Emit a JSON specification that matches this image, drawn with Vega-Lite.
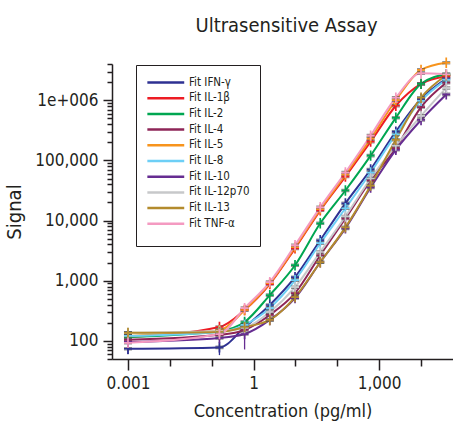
{
"$schema":"https://vega.github.io/schema/vega-lite/v6.json",
"width":341,"height":295,
"autosize":"none",
"padding":{"left":112,"top":64,"right":0,"bottom":81},
"background":"white",
"config":{"font":"'DejaVu Sans Condensed', Lato, sans-serif","view":{"stroke":null},
 "axis":{"domainColor":"#231f20","tickColor":"#231f20","labelColor":"#231f20","titleColor":"#231f20","grid":false,"domainWidth":1.5,"tickWidth":1.5}},
"title":{"text":"Ultrasensitive Assay","fontSize":20,"fontWeight":"normal","color":"#231f20","anchor":"middle","offset":18,"dx":4},
"data":{"values":[
{"s":"Fit IFN-γ","x":0.001,"y":74,"lo":60,"hi":92},{"s":"Fit IFN-γ","x":0.153,"y":78,"lo":58,"hi":90},{"s":"Fit IFN-γ","x":0.61,"y":168},{"s":"Fit IFN-γ","x":2.44,"y":395},{"s":"Fit IFN-γ","x":9.77,"y":1145},{"s":"Fit IFN-γ","x":39.1,"y":4700},{"s":"Fit IFN-γ","x":156,"y":19300},{"s":"Fit IFN-γ","x":625,"y":70500},{"s":"Fit IFN-γ","x":2500,"y":300000},{"s":"Fit IFN-γ","x":10000,"y":1050000},{"s":"Fit IFN-γ","x":40000,"y":2300000},
{"s":"Fit IL-1β","x":0.001,"y":116},{"s":"Fit IL-1β","x":0.153,"y":170},{"s":"Fit IL-1β","x":0.61,"y":326},{"s":"Fit IL-1β","x":2.44,"y":880},{"s":"Fit IL-1β","x":9.77,"y":3450},{"s":"Fit IL-1β","x":39.1,"y":14800},{"s":"Fit IL-1β","x":156,"y":53900},{"s":"Fit IL-1β","x":625,"y":205000},{"s":"Fit IL-1β","x":2500,"y":810000},{"s":"Fit IL-1β","x":10000,"y":1870000},{"s":"Fit IL-1β","x":40000,"y":2500000},
{"s":"Fit IL-2","x":0.001,"y":116},{"s":"Fit IL-2","x":0.153,"y":146},{"s":"Fit IL-2","x":0.61,"y":206},{"s":"Fit IL-2","x":2.44,"y":577},{"s":"Fit IL-2","x":9.77,"y":1810},{"s":"Fit IL-2","x":39.1,"y":9000},{"s":"Fit IL-2","x":156,"y":31600},{"s":"Fit IL-2","x":625,"y":120000},{"s":"Fit IL-2","x":2500,"y":510000},{"s":"Fit IL-2","x":10000,"y":1870000},{"s":"Fit IL-2","x":40000,"y":2700000},
{"s":"Fit IL-4","x":0.001,"y":104},{"s":"Fit IL-4","x":0.153,"y":126},{"s":"Fit IL-4","x":0.61,"y":152},{"s":"Fit IL-4","x":2.44,"y":270},{"s":"Fit IL-4","x":9.77,"y":620},{"s":"Fit IL-4","x":39.1,"y":2650},{"s":"Fit IL-4","x":156,"y":10800},{"s":"Fit IL-4","x":625,"y":46300},{"s":"Fit IL-4","x":2500,"y":160000},{"s":"Fit IL-4","x":10000,"y":770000},{"s":"Fit IL-4","x":40000,"y":1950000},
{"s":"Fit IL-5","x":0.001,"y":121},{"s":"Fit IL-5","x":0.153,"y":150},{"s":"Fit IL-5","x":0.61,"y":326},{"s":"Fit IL-5","x":2.44,"y":912},{"s":"Fit IL-5","x":9.77,"y":3600},{"s":"Fit IL-5","x":39.1,"y":15400},{"s":"Fit IL-5","x":156,"y":58000},{"s":"Fit IL-5","x":625,"y":230000},{"s":"Fit IL-5","x":2500,"y":1000000},{"s":"Fit IL-5","x":10000,"y":3200000},{"s":"Fit IL-5","x":40000,"y":4200000},
{"s":"Fit IL-8","x":0.001,"y":121},{"s":"Fit IL-8","x":0.153,"y":141},{"s":"Fit IL-8","x":0.61,"y":184},{"s":"Fit IL-8","x":2.44,"y":351},{"s":"Fit IL-8","x":9.77,"y":1020},{"s":"Fit IL-8","x":39.1,"y":4200},{"s":"Fit IL-8","x":156,"y":16000},{"s":"Fit IL-8","x":625,"y":62800},{"s":"Fit IL-8","x":2500,"y":270000},{"s":"Fit IL-8","x":10000,"y":980000},{"s":"Fit IL-8","x":40000,"y":2200000},
{"s":"Fit IL-10","x":0.001,"y":96},{"s":"Fit IL-10","x":0.153,"y":112},{"s":"Fit IL-10","x":0.61,"y":130,"lo":72,"hi":240},{"s":"Fit IL-10","x":2.44,"y":223},{"s":"Fit IL-10","x":9.77,"y":515},{"s":"Fit IL-10","x":39.1,"y":2030},{"s":"Fit IL-10","x":156,"y":7400},{"s":"Fit IL-10","x":625,"y":35400},{"s":"Fit IL-10","x":2500,"y":150000},{"s":"Fit IL-10","x":10000,"y":470000},{"s":"Fit IL-10","x":40000,"y":1250000},
{"s":"Fit IL-12p70","x":0.001,"y":136},{"s":"Fit IL-12p70","x":0.153,"y":146},{"s":"Fit IL-12p70","x":0.61,"y":164},{"s":"Fit IL-12p70","x":2.44,"y":302},{"s":"Fit IL-12p70","x":9.77,"y":780},{"s":"Fit IL-12p70","x":39.1,"y":3000},{"s":"Fit IL-12p70","x":156,"y":11700},{"s":"Fit IL-12p70","x":625,"y":50000},{"s":"Fit IL-12p70","x":2500,"y":176000},{"s":"Fit IL-12p70","x":10000,"y":550000},{"s":"Fit IL-12p70","x":40000,"y":1600000},
{"s":"Fit IL-13","x":0.001,"y":136},{"s":"Fit IL-13","x":0.153,"y":141},{"s":"Fit IL-13","x":0.61,"y":170},{"s":"Fit IL-13","x":2.44,"y":223},{"s":"Fit IL-13","x":9.77,"y":535},{"s":"Fit IL-13","x":39.1,"y":2030},{"s":"Fit IL-13","x":156,"y":7700},{"s":"Fit IL-13","x":625,"y":38000},{"s":"Fit IL-13","x":2500,"y":220000},{"s":"Fit IL-13","x":10000,"y":1100000},{"s":"Fit IL-13","x":40000,"y":2600000},
{"s":"Fit TNF-α","x":0.001,"y":93},{"s":"Fit TNF-α","x":0.153,"y":130},{"s":"Fit TNF-α","x":0.61,"y":351},{"s":"Fit TNF-α","x":2.44,"y":948},{"s":"Fit TNF-α","x":9.77,"y":3880},{"s":"Fit TNF-α","x":39.1,"y":16600},{"s":"Fit TNF-α","x":156,"y":62800},{"s":"Fit TNF-α","x":625,"y":258000},{"s":"Fit TNF-α","x":2500,"y":1100000},{"s":"Fit TNF-α","x":10000,"y":2800000},{"s":"Fit TNF-α","x":40000,"y":2700000}
]},
"layer":[
{"mark":{"type":"line","interpolate":"monotone","strokeWidth":2},
 "encoding":{
  "x":{"field":"x","type":"quantitative","scale":{"type":"log","domain":[0.000415,58000],"nice":false},
   "axis":{"orient":"bottom","values":[0.001,1,1000],"tickSize":11,"labelExpr":"datum.value >= 1000 ? '1,000' : datum.value >= 1 ? '1' : '0.001'","labelFontSize":17,"labelPadding":5,"title":"Concentration (pg/ml)","titleFontSize":18,"titleFontWeight":"normal","titlePadding":11}},
  "y":{"field":"y","type":"quantitative","scale":{"type":"log","domain":[50,4000000],"nice":false},
   "axis":{"orient":"left","values":[100,1000,10000,100000,1000000],"tickSize":9,"labelExpr":"datum.value >= 1000000 ? '1e+006' : format(datum.value, ',')","labelFontSize":17,"labelPadding":5,"title":"Signal","titleFontSize":20,"titleFontWeight":"normal","titlePadding":10}},
  "color":{"field":"s","type":"nominal","scale":{"domain":["Fit IFN-γ","Fit IL-1β","Fit IL-2","Fit IL-4","Fit IL-5","Fit IL-8","Fit IL-10","Fit IL-12p70","Fit IL-13","Fit TNF-α"],"range":["#2e3192","#ed1c24","#00a651","#8e2557","#f7941d","#6dcff6","#662d91","#c7c8ca","#b38b2d","#f49ac1"]},
   "legend":{"orient":"none","legendX":24,"legendY":1,"title":" ","titleOrient":"bottom","titleFontSize":6,"titlePadding":1,"padding":10,"strokeColor":"#231f20","fillColor":"white","symbolType":"M-1,0H5","symbolSize":151,"symbolStrokeWidth":2.5,"labelFontSize":11.5,"labelOffset":28,"rowPadding":2.7,"labelColor":"#231f20"}}
 }},
{"transform":[{"filter":"isValid(datum.lo)"}],
 "mark":{"type":"rule","strokeWidth":1.3},
 "encoding":{
  "x":{"field":"x","type":"quantitative","scale":{"type":"log","domain":[0.000415,58000],"nice":false},"axis":null},
  "y":{"field":"lo","type":"quantitative","scale":{"type":"log","domain":[50,4000000],"nice":false},"axis":null},
  "y2":{"field":"hi"},
  "color":{"field":"s","type":"nominal"}
 }},
{"mark":{"type":"point","shape":"M-1,-0.3H1M-1,0.3H1","size":64,"strokeWidth":1.2,"color":"#4d4d4d","opacity":0.6,"filled":false},
 "encoding":{
  "x":{"field":"x","type":"quantitative","scale":{"type":"log","domain":[0.000415,58000],"nice":false},
   "axis":{"orient":"bottom","values":[0.01,0.1,10,100,10000],"tickSize":7,"labels":false,"domain":false,"title":null}},
  "y":{"field":"y","type":"quantitative","scale":{"type":"log","domain":[50,4000000],"nice":false},
   "axis":{"orient":"left","values":[50,60,70,80,90,200,300,400,500,600,700,800,900,2000,3000,4000,5000,6000,7000,8000,9000,20000,30000,40000,50000,60000,70000,80000,90000,200000,300000,400000,500000,600000,700000,800000,900000,2000000,3000000,4000000],"tickSize":5,"labels":false,"domain":false,"title":null}}
 }},
{"mark":{"type":"point","shape":"M-1,0H1M0,-1.3V1.3","size":64,"strokeWidth":1.7,"filled":false,"opacity":1},
 "encoding":{
  "x":{"field":"x","type":"quantitative","scale":{"type":"log","domain":[0.000415,58000],"nice":false},"axis":null},
  "y":{"field":"y","type":"quantitative","scale":{"type":"log","domain":[50,4000000],"nice":false},"axis":null},
  "color":{"field":"s","type":"nominal"}
 }}
],
"resolve":{"axis":{"x":"independent","y":"independent"}}
}
